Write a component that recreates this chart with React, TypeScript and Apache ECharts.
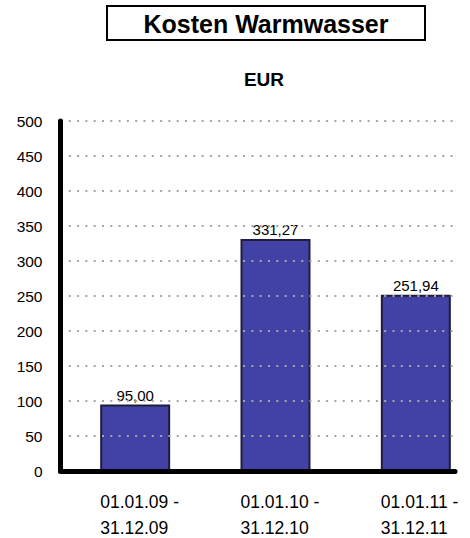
import React, { useEffect, useRef } from "react";
import * as echarts from "echarts";

const categories = ["01.01.09 -\n31.12.09", "01.01.10 -\n31.12.10", "01.01.11 -\n31.12.11"];
const values = [95.0, 331.27, 251.94];
const yTicks = { min: 0, max: 500, interval: 50 };
const titleText = "Kosten Warmwasser";
const unitText = "EUR";

const FONT = "Arial, 'Liberation Sans', Helvetica, sans-serif";

export default function App() {
  const ref = useRef<HTMLDivElement>(null);
  useEffect(() => {
    if (!ref.current) return;
    const chart = echarts.init(ref.current, null, { renderer: "svg" });
    chart.setOption({
      animation: false,
      backgroundColor: "#ffffff",
      textStyle: { fontFamily: FONT },
      graphic: [
        {
          type: "rect",
          shape: { x: 107, y: 6, width: 318, height: 34 },
          style: { fill: "#ffffff", stroke: "#000000", lineWidth: 2 },
          z: 10,
        },
        {
          type: "text",
          x: 266,
          y: 24,
          style: {
            text: titleText,
            fontFamily: FONT,
            fontSize: 25,
            fontWeight: "bold",
            fill: "#000000",
            align: "center",
            verticalAlign: "middle",
          },
          z: 11,
        },
        {
          type: "text",
          x: 264,
          y: 79,
          style: {
            text: unitText,
            fontFamily: FONT,
            fontSize: 19,
            fontWeight: "bold",
            fill: "#000000",
            align: "center",
            verticalAlign: "middle",
          },
          z: 11,
        },
      ],
      grid: [
        { left: 60.5, top: 121, width: 394.5, height: 350, outerBoundsMode: "none", containLabel: false },
        { left: 65, top: 121, width: 421, height: 350, outerBoundsMode: "none", containLabel: false },
      ],
      xAxis: [
        {
          gridIndex: 0,
          type: "category",
          data: categories,
          axisLine: { show: true, lineStyle: { color: "#000000", width: 5 } },
          axisTick: { show: false },
          axisLabel: { show: false },
          splitLine: { show: false },
          z: 5,
        },
        {
          gridIndex: 1,
          type: "category",
          data: categories,
          axisLine: { show: false },
          axisTick: { show: false },
          splitLine: { show: false },
          axisLabel: {
            margin: 18,
            align: "center",
            formatter: (v: string) =>
              v
                .split("\n")
                .map((s) => "{a|" + s + "}")
                .join("\n"),
            rich: {
              a: {
                width: 70,
                align: "left",
                fontSize: 17.5,
                lineHeight: 26,
                color: "#000000",
                fontFamily: FONT,
              },
            },
          },
        },
      ],
      yAxis: [
        {
          gridIndex: 0,
          type: "value",
          min: yTicks.min,
          max: yTicks.max,
          interval: yTicks.interval,
          axisLine: { show: true, lineStyle: { color: "#000000", width: 5 } },
          axisTick: { show: false },
          axisLabel: { margin: 18, fontSize: 15.5, color: "#000000", fontFamily: FONT },
          splitLine: {
            show: true,
            lineStyle: { color: "#a6a6a6", width: 2, type: [2, 6.3] },
          },
          z: 5,
        },
        {
          gridIndex: 1,
          type: "value",
          min: yTicks.min,
          max: yTicks.max,
          interval: yTicks.interval,
          show: false,
          splitLine: { show: false },
        },
      ],
      series: [
        {
          type: "bar",
          xAxisIndex: 1,
          yAxisIndex: 1,
          data: values,
          barWidth: 70,
          itemStyle: { color: "#4242A6", borderColor: "#1E1E3C", borderWidth: 2 },
          label: {
            show: true,
            position: "top",
            distance: 2,
            fontSize: 15,
            color: "#000000",
            fontFamily: FONT,
            formatter: (p: any) => Number(p.value).toFixed(2).replace(".", ","),
          },
          z: 3,
        },
      ],
    });
    return () => chart.dispose();
  }, []);
  return <div ref={ref} style={{ width: 470, height: 538, position: "absolute", left: 0, top: 0 }} />;
}
